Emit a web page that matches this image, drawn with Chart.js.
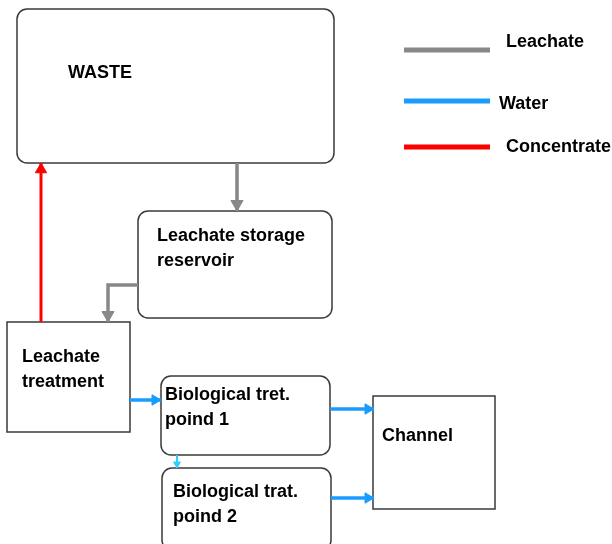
<!DOCTYPE html>
<html>
<head>
<meta charset="utf-8">
<script src="https://cdn.jsdelivr.net/npm/chart.js@4/dist/chart.umd.min.js"></script>
<style>
  html, body { margin: 0; padding: 0; background: #fff; }
  #flow { display: block; }
</style>
</head>
<body>
<canvas id="flow" width="612" height="544"></canvas>
<script>
// nodes of the diagram (left, top, right, bottom in picture units)
const nodeNames = ["waste", "storage", "treatment", "bio1", "bio2", "channel"];
const nodeLabels = [["WASTE"], ["Leachate storage", "reservoir"], ["Leachate", "treatment"],
                    ["Biological tret.", "poind 1"], ["Biological trat.", "poind 2"], ["Channel"]];
const nodeBounds = [[17, 9, 334, 163], [138, 211, 332, 318], [7, 322, 130, 432],
                    [161, 376, 330, 455], [162, 468, 331, 550], [373, 396, 495, 509]];
const nodeRounded = [true, true, false, true, true, false];
const labelPos = [[68, 78], [157, 241], [22, 362], [165, 400], [173, 497], [382, 441]];

// flows: kind and path, last point is where the arrow tip lands
const flowKinds = ["leachate", "leachate", "concentrate", "water", "water", "water", "water2"];
const flowPaths = [
  [[237, 163], [237, 211]],
  [[138, 285], [108, 285], [108, 322]],
  [[41, 322], [41, 163]],
  [[130, 400], [161, 400]],
  [[330, 409], [374, 409]],
  [[331, 498], [374, 498]],
  [[177, 455], [177, 468]]
];

const legendNames = ["Leachate", "Water", "Concentrate"];
const legendKinds = ["leachate", "water", "concentrate"];

const colors = {
  leachate: "#888888",
  water: "#1a9cff",
  concentrate: "#ff0000",
  water2: "#33ccff"
};
const headSize = { leachate: 7, water: 6, concentrate: 6.5, water2: 4 };
const lineSize = { leachate: 3.5, water: 3.5, concentrate: 3, water2: 2 };

function toDatasets() {
  return flowPaths.map((path, i) => {
    let kind = flowKinds[i];
    let r = headSize[kind];
    let tip = path[path.length - 1];
    let prev = path[path.length - 2];
    let dx = tip[0] - prev[0], dy = tip[1] - prev[1];
    let len = Math.hypot(dx, dy);
    let ux = dx / len, uy = dy / len;
    let head = { x: tip[0] - ux * r, y: tip[1] - uy * r };
    let pts = path.slice(0, -1).map(p => ({ x: p[0], y: p[1] }));
    pts.push(head, { x: tip[0], y: tip[1] });
    let radii = pts.map((p, k) => (k === pts.length - 2 ? r : 0));
    let rot = Math.atan2(ux, -uy) * 180 / Math.PI;
    return {
      label: kind,
      data: pts,
      showLine: true,
      borderColor: colors[kind],
      backgroundColor: colors[kind],
      borderWidth: lineSize[kind],
      pointStyle: "triangle",
      pointRadius: radii,
      pointRotation: rot,
      pointBorderWidth: 1,
      pointBorderColor: colors[kind],
      pointBackgroundColor: colors[kind],
      tension: 0,
      clip: false
    };
  });
}

const diagramPlugin = {
  id: "diagram",
  beforeDatasetsDraw(chart) {
    const { ctx, scales: { x, y } } = chart;
    ctx.save();
    nodeBounds.forEach((b, i) => {
      let x0 = x.getPixelForValue(b[0]), y0 = y.getPixelForValue(b[1]);
      let x1 = x.getPixelForValue(b[2]), y1 = y.getPixelForValue(b[3]);
      ctx.beginPath();
      if (nodeRounded[i]) ctx.roundRect(x0, y0, x1 - x0, y1 - y0, 10);
      else ctx.rect(x0, y0, x1 - x0, y1 - y0);
      ctx.fillStyle = "#ffffff";
      ctx.fill();
      ctx.lineWidth = 1.5;
      ctx.strokeStyle = "#3a3a3a";
      ctx.stroke();
    });
    ctx.fillStyle = "#000000";
    ctx.font = "bold 18px 'Liberation Sans', Arial, sans-serif";
    ctx.textBaseline = "alphabetic";
    nodeLabels.forEach((lines, i) => {
      lines.forEach((t, k) => {
        ctx.fillText(t, x.getPixelForValue(labelPos[i][0]), y.getPixelForValue(labelPos[i][1] + k * 25));
      });
    });

    // legend
    const legendLineY = [50, 101, 147];
    const legendTextX = [506, 499, 506];
    const legendTextY = [47, 109, 152];
    legendNames.forEach((name, i) => {
      ctx.beginPath();
      ctx.moveTo(x.getPixelForValue(404), y.getPixelForValue(legendLineY[i]));
      ctx.lineTo(x.getPixelForValue(490), y.getPixelForValue(legendLineY[i]));
      ctx.lineWidth = 5;
      ctx.strokeStyle = colors[legendKinds[i]];
      ctx.stroke();
      ctx.fillStyle = "#000000";
      ctx.fillText(name, x.getPixelForValue(legendTextX[i]), y.getPixelForValue(legendTextY[i]));
    });
    ctx.restore();
  }
};

new Chart(document.getElementById("flow"), {
  type: "scatter",
  data: { datasets: toDatasets() },
  options: {
    responsive: false,
    animation: false,
    layout: { padding: 0 },
    plugins: { legend: { display: false }, tooltip: { enabled: false } },
    scales: {
      x: { type: "linear", min: 0, max: 612, display: false },
      y: { type: "linear", min: 0, max: 544, reverse: true, display: false }
    }
  },
  plugins: [diagramPlugin]
});
</script>
</body>
</html>
